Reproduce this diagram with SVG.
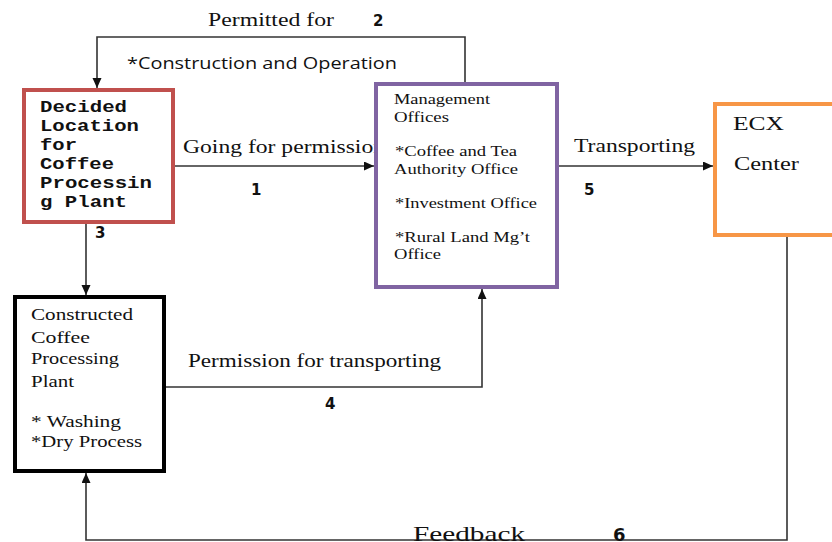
<svg xmlns="http://www.w3.org/2000/svg" width="832" height="542" viewBox="0 0 832 542">
<style>
.serif{font-family:"Liberation Serif","Times New Roman",serif;fill:#111}
.lbl{font-size:18px}
.sm{font-size:15px}
.bx{font-size:16px}
.num{font-family:"DejaVu Sans","Liberation Sans",sans-serif;font-weight:bold;font-size:15px;fill:#111}
.mono{font-family:"Liberation Mono","Courier New",monospace;font-weight:bold;font-size:16.5px;fill:#111}
.sans{font-family:"Open Sans","Liberation Sans",sans-serif;font-size:16px;fill:#111}
.conn{fill:none;stroke:#333;stroke-width:1.6}
.box{fill:#fff;stroke-width:4}
</style>
<defs>
<marker id="arr" markerWidth="11" markerHeight="10" refX="10" refY="4.5" orient="auto" markerUnits="userSpaceOnUse">
<path d="M0,0 L10,4.5 L0,9 z" fill="#111"/>
</marker>
</defs>
<rect width="832" height="542" fill="#fff"/>
<g id="connectors">
<path class="conn" d="M465,82 V37 H97 V88" marker-end="url(#arr)"/>
<path class="conn" d="M175,166 H374" marker-end="url(#arr)"/>
<path class="conn" d="M559,166 H713" marker-end="url(#arr)"/>
<path class="conn" d="M86,224 V295" marker-end="url(#arr)"/>
<path class="conn" d="M166,387 H482 V289" marker-end="url(#arr)"/>
<path class="conn" d="M787,237 V540 H86 V473" marker-end="url(#arr)"/>
<text class="serif lbl" x="208" y="26" textLength="126" lengthAdjust="spacingAndGlyphs">Permitted for</text>
<text class="num" x="373" y="26">2</text>
<text class="sans" x="127" y="69" textLength="270" lengthAdjust="spacingAndGlyphs">*Construction and Operation</text>
<text class="serif lbl" x="183" y="153" textLength="202" lengthAdjust="spacingAndGlyphs">Going for permission</text>
<text class="num" x="251" y="195">1</text>
<text class="num" x="95" y="238">3</text>
<text class="serif lbl" x="574" y="152" textLength="121" lengthAdjust="spacingAndGlyphs">Transporting</text>
<text class="num" x="584" y="195">5</text>
<text class="serif lbl" x="188" y="367" textLength="253" lengthAdjust="spacingAndGlyphs">Permission for transporting</text>
<text class="num" x="325" y="409">4</text>
<text class="serif" x="413" y="541" style="font-size:21px" textLength="112" lengthAdjust="spacingAndGlyphs">Feedback</text>
<text class="num" x="613" y="541" style="font-size:18px">6</text>
</g>
<g id="decided">
<rect class="box" x="24" y="90" width="149" height="132" stroke="#c0504d"/>
<text class="mono" x="40" y="112" textLength="87" lengthAdjust="spacingAndGlyphs">Decided</text>
<text class="mono" x="40" y="131" textLength="99" lengthAdjust="spacingAndGlyphs">Location</text>
<text class="mono" x="40" y="150" textLength="37" lengthAdjust="spacingAndGlyphs">for</text>
<text class="mono" x="40" y="169" textLength="74" lengthAdjust="spacingAndGlyphs">Coffee</text>
<text class="mono" x="40" y="188" textLength="112" lengthAdjust="spacingAndGlyphs">Processin</text>
<text class="mono" x="40" y="207" textLength="87" lengthAdjust="spacingAndGlyphs">g Plant</text>
</g>
<g id="management">
<rect class="box" x="376" y="84" width="181" height="203" stroke="#8064a2" stroke-width="3.5"/>
<text class="serif sm" x="394" y="104" textLength="96" lengthAdjust="spacingAndGlyphs">Management</text>
<text class="serif sm" x="394" y="122" textLength="55" lengthAdjust="spacingAndGlyphs">Offices</text>
<text class="serif sm" x="395" y="156" textLength="122" lengthAdjust="spacingAndGlyphs">*Coffee and Tea</text>
<text class="serif sm" x="394" y="174" textLength="124" lengthAdjust="spacingAndGlyphs">Authority Office</text>
<text class="serif sm" x="395" y="208" textLength="142" lengthAdjust="spacingAndGlyphs">*Investment Office</text>
<text class="serif sm" x="395" y="242" textLength="135" lengthAdjust="spacingAndGlyphs">*Rural Land Mg’t</text>
<text class="serif sm" x="394" y="259" textLength="47" lengthAdjust="spacingAndGlyphs">Office</text>
</g>
<g id="ecx">
<rect class="box" x="715" y="104" width="130" height="131" stroke="#f79646"/>
<text class="serif lbl" x="733" y="130" textLength="51" lengthAdjust="spacingAndGlyphs">ECX</text>
<text class="serif lbl" x="734" y="170" textLength="65" lengthAdjust="spacingAndGlyphs">Center</text>
</g>
<g id="constructed">
<rect class="box" x="15" y="297" width="149" height="174" stroke="#000"/>
<text class="serif bx" x="31" y="320" textLength="102" lengthAdjust="spacingAndGlyphs">Constructed</text>
<text class="serif bx" x="31" y="343" textLength="59" lengthAdjust="spacingAndGlyphs">Coffee</text>
<text class="serif bx" x="31" y="364" textLength="88" lengthAdjust="spacingAndGlyphs">Processing</text>
<text class="serif bx" x="31" y="387" textLength="43" lengthAdjust="spacingAndGlyphs">Plant</text>
<text class="serif bx" x="31" y="427" textLength="90" lengthAdjust="spacingAndGlyphs">* Washing</text>
<text class="serif bx" x="31" y="447" textLength="111" lengthAdjust="spacingAndGlyphs">*Dry Process</text>
</g>
</svg>
